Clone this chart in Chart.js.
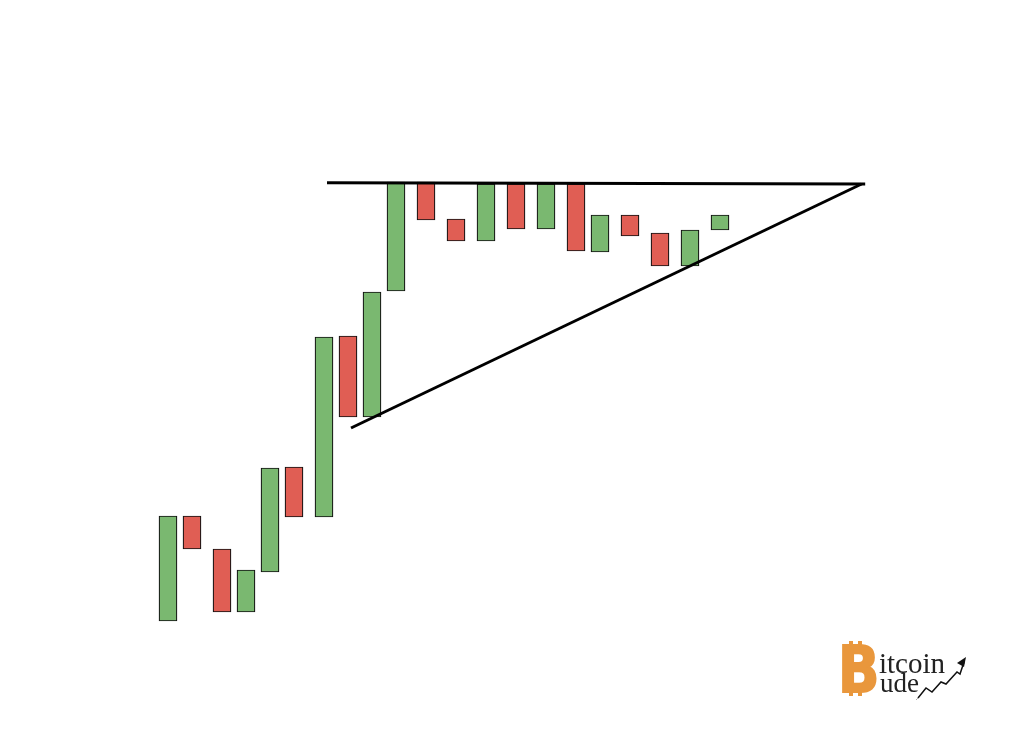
<!DOCTYPE html>
<html>
<head>
<meta charset="utf-8">
<script src="https://cdn.jsdelivr.net/npm/chart.js@4.4.1/dist/chart.umd.min.js"></script>
<style>
  html, body { margin: 0; padding: 0; background: #fff; }
  #wrap { position: relative; width: 1024px; height: 731px; }
  #logo { position: absolute; left: 840px; top: 636px; width: 140px; height: 64px; }
  #logo .b { position: absolute; left: -2px; top: 2px; font: bold 64px "DejaVu Sans", sans-serif;
             color: #E9973C; -webkit-text-stroke: 2px #E9973C; transform: scaleX(0.85); transform-origin: left top; line-height: 64px; }
  #logo .t1 { position: absolute; left: 39px; top: 10px; font: 29px "Liberation Serif", "Times New Roman", serif; color: #222; line-height: 34px; }
  #logo .t2 { position: absolute; left: 40px; top: 30px; font: 27px "Liberation Serif", "Times New Roman", serif; color: #222; line-height: 34px; }
  #logo svg { position: absolute; left: 0; top: 0; }
</style>
</head>
<body>
<div id="wrap">
  <canvas id="grafico" width="1024" height="731"></canvas>
  <div id="logo">
    <svg width="140" height="64">
      <rect x="9" y="5" width="4" height="6" fill="#E9973C"/>
      <rect x="18" y="5" width="4" height="6" fill="#E9973C"/>
      <rect x="9" y="54" width="4" height="6" fill="#E9973C"/>
      <rect x="18" y="54" width="4" height="6" fill="#E9973C"/>
      <polyline points="78,62 86,52 92,56 101,46 106,48 117,36 120,38 124,26" fill="none" stroke="#111" stroke-width="1.5"/>
      <polygon points="126,21 117,27 124,31" fill="#111"/>
      <line x1="78" y1="62" x2="68" y2="72" stroke="#aaa" stroke-width="1"/>
    </svg>
    <span class="b">B</span>
    <span class="t1">itcoin</span>
    <span class="t2">ude</span>
  </div>
</div>
<script>
// tempo (posição de cada vela) e preços de abertura / fechamento
const tempos = [0, 4, 9, 13, 17, 21, 26, 30, 34, 38, 43, 48, 53, 58, 63, 68, 72, 77, 82, 87, 92];
const aberturas = [11.0, 21.5, 18.2, 11.9, 15.9, 26.4, 21.4, 39.5, 31.4, 44.0, 54.9, 51.2, 49.0, 54.7, 50.2, 54.7, 47.9, 51.6, 49.8, 46.5, 50.1];
const fechamentos = [21.5, 18.2, 11.9, 16.1, 26.3, 21.4, 39.4, 31.4, 43.9, 54.9, 51.1, 49.0, 54.7, 50.2, 54.7, 48.0, 51.6, 49.5, 46.5, 50.1, 51.6];

// linhas do triângulo (resistência e suporte)
const resistencia = [{ x: 26.5, y: 54.83 }, { x: 116.2, y: 54.7 }];
const suporte = [{ x: 30.5, y: 30.3 }, { x: 115.6, y: 54.7 }];

const VERDE = '#7AB870';
const VERMELHO = '#E05E54';

const velas = tempos.map((t, i) => ({ x: t, y: [aberturas[i], fechamentos[i]] }));
const cores = tempos.map((t, i) => fechamentos[i] >= aberturas[i] ? VERDE : VERMELHO);

const contexto = document.getElementById('grafico').getContext('2d');
new Chart(contexto, {
    type: 'bar',
    data: {
        datasets: [
            {
                type: 'line',
                data: resistencia,
                borderColor: '#000',
                borderWidth: 3,
                pointRadius: 0,
                order: 0
            },
            {
                type: 'line',
                data: suporte,
                borderColor: '#000',
                borderWidth: 3,
                pointRadius: 0,
                order: 0
            },
            {
                data: velas,
                backgroundColor: cores,
                borderColor: '#111',
                borderWidth: 1.2,
                borderSkipped: false,
                barThickness: 18,
                order: 1
            }
        ]
    },
    options: {
        responsive: false,
        animation: false,
        layout: { padding: 0 },
        plugins: { legend: { display: false }, tooltip: { enabled: false } },
        scales: {
            x: { type: 'linear', display: false, min: -28, max: 142.667, offset: false },
            y: { type: 'linear', display: false, min: 0, max: 73.1 }
        }
    }
});
</script>
</body>
</html>
